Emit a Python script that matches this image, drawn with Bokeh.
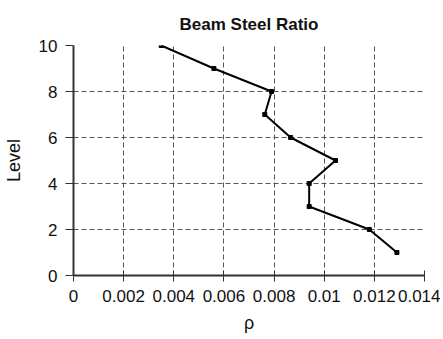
from bokeh.plotting import figure
from bokeh.models import FixedTicker
from bokeh.embed import file_html
from bokeh.resources import INLINE

levels = [1, 2, 3, 4, 5, 6, 7, 8, 9, 10]
rho = [0.0129, 0.0118, 0.0094, 0.0094, 0.01045, 0.00866, 0.00763, 0.0079, 0.0056, 0.0035]

x_ticks = [0, 0.002, 0.004, 0.006, 0.008, 0.01, 0.012, 0.014]
x_tick_labels = ["0", "0.002", "0.004", "0.006", "0.008", "0.01", "0.012", "0.014"]
y_ticks = [0, 2, 4, 6, 8, 10]

FONT = "Liberation Sans"

p = figure(width=440, height=336, output_backend="svg", toolbar_location=None,
           x_range=(0, 0.014), y_range=(0, 10),
           min_border_left=70, min_border_right=16, min_border_top=45, min_border_bottom=61,
           title="Beam Steel Ratio")
p.outline_line_color = None
p.title.align = "center"
p.title.text_font = FONT
p.title.text_font_size = "17px"
p.title.text_font_style = "bold"
p.title.text_color = "#111111"
p.title.standoff = 24

p.line(rho, levels, line_color="black", line_width=2)
p.scatter(rho, levels, marker="square", size=4, color="black")

p.xaxis.ticker = FixedTicker(ticks=x_ticks)
p.xaxis.major_label_overrides = {t: l for t, l in zip(x_ticks, x_tick_labels)}
p.yaxis.ticker = FixedTicker(ticks=y_ticks)
p.xaxis.axis_label = "ρ"
p.yaxis.axis_label = "Level"

for ax in (p.xaxis, p.yaxis):
    ax.axis_label_text_font = FONT
    ax.axis_label_text_font_style = "normal"
    ax.axis_label_text_font_size = "18px"
    ax.axis_label_text_color = "#111111"
    ax.major_label_text_font = FONT
    ax.major_label_text_font_size = "17px"
    ax.major_label_text_color = "#111111"
    ax.minor_tick_line_color = None
    ax.axis_line_color = "#333333"
    ax.axis_line_width = 2
    ax.major_tick_line_color = "#333333"
    ax.major_tick_line_width = 1

p.xaxis.major_tick_in = 5
p.xaxis.major_tick_out = 6
p.yaxis.major_tick_in = 0
p.yaxis.major_tick_out = 8
p.xaxis.major_label_standoff = 8
p.yaxis.major_label_standoff = 8
p.xaxis.axis_label_standoff = 8
p.yaxis.axis_label_standoff = 12

p.grid.grid_line_color = "#555555"
p.grid.grid_line_dash = "5 3"
p.grid.grid_line_width = 1

open("out.html", "w").write(file_html(p, INLINE))
